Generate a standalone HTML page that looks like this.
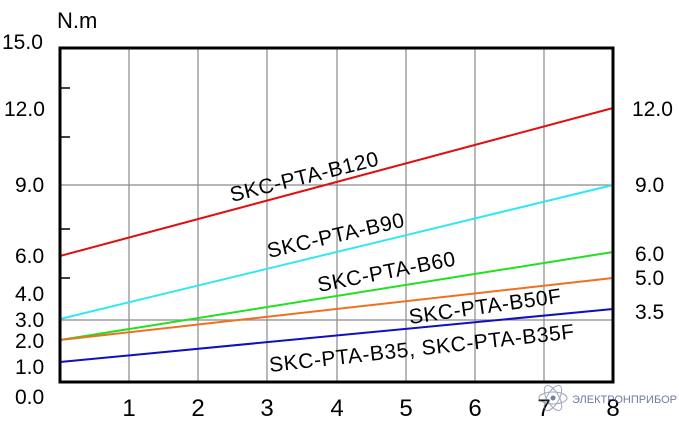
<!DOCTYPE html>
<html><head><meta charset="utf-8"><style>
body{margin:0;background:#fff;}
svg{display:block;font-family:"Liberation Sans",Arial,sans-serif;}
</style></head><body>
<svg width="679" height="425" viewBox="0 0 679 425" xmlns="http://www.w3.org/2000/svg">
<rect width="679" height="425" fill="#fff"/>
<g stroke="#8a8a8a" stroke-width="1.2">
<line x1="129" y1="48" x2="129" y2="382"/>
<line x1="198" y1="48" x2="198" y2="382"/>
<line x1="267" y1="48" x2="267" y2="382"/>
<line x1="337" y1="48" x2="337" y2="382"/>
<line x1="406" y1="48" x2="406" y2="382"/>
<line x1="475" y1="48" x2="475" y2="382"/>
<line x1="544" y1="48" x2="544" y2="382"/>
<line x1="60" y1="185" x2="613" y2="185"/>
<line x1="60" y1="320" x2="613" y2="320"/>
</g>
<g stroke="#000" stroke-width="1.5">
<line x1="60" y1="88" x2="70" y2="88"/>
<line x1="60" y1="137" x2="70" y2="137"/>
<line x1="60" y1="229" x2="70" y2="229"/>
<line x1="60" y1="278" x2="70" y2="278"/>
</g>
<g stroke-width="2" fill="none">
<path d="M60 256 L613 108" stroke="#e01010"/>
<path d="M60 319 L613 185" stroke="#30e8f0"/>
<path d="M60 340 L613 252" stroke="#20e020"/>
<path d="M60 340 L613 278" stroke="#f07020"/>
<path d="M60 362 L613 309" stroke="#1010c0"/>
</g>
<rect x="60" y="48" width="553" height="334" fill="none" stroke="#000" stroke-width="3"/>
<g font-size="21" fill="#000">
<text x="57" y="28" font-size="22">N.m</text>
<text x="2" y="49">15.0</text>
<text x="4" y="116">12.0</text>
<text x="15" y="192">9.0</text>
<text x="15" y="263">6.0</text>
<text x="15" y="301">4.0</text>
<text x="15" y="327">3.0</text>
<text x="15" y="348">2.0</text>
<text x="15" y="374">1.0</text>
<text x="15" y="404">0.0</text>
<text x="632" y="116">12.0</text>
<text x="635" y="192">9.0</text>
<text x="635" y="261">6.0</text>
<text x="635" y="285">5.0</text>
<text x="635" y="319">3.5</text>
</g>
<g font-size="24" fill="#000" text-anchor="middle">
<text x="129" y="416">1</text><text x="198" y="416">2</text><text x="267" y="416">3</text>
<text x="337" y="416">4</text><text x="406" y="416">5</text><text x="475" y="416">6</text>
<text x="544" y="416">7</text><text x="613" y="416">8</text>
</g>
<g font-size="21" fill="#000" letter-spacing="0.6">
<text transform="translate(232,202) rotate(-14)">SKC-PTA-B120</text>
<text transform="translate(269,258) rotate(-13)">SKC-PTA-B90</text>
<text transform="translate(319,292) rotate(-11)">SKC-PTA-B60</text>
<text transform="translate(410,324) rotate(-8)">SKC-PTA-B50F</text>
<text transform="translate(270,372) rotate(-6.3)">SKC-PTA-B35, SKC-PTA-B35F</text>
</g>
<g opacity="0.6" fill="none" stroke="#5a6a90" stroke-width="1">
<ellipse cx="553" cy="398" rx="14" ry="6"/>
<ellipse cx="553" cy="398" rx="14" ry="6" transform="rotate(60 553 398)"/>
<ellipse cx="553" cy="398" rx="14" ry="6" transform="rotate(-60 553 398)"/>
</g>
<circle cx="553" cy="398" r="2.5" fill="#3a4a80" opacity="0.7"/>
<text x="572" y="403" font-size="11" fill="#4a5a88" opacity="0.8">ЭЛЕКТРОНПРИБОР</text>
</svg>
</body></html>
